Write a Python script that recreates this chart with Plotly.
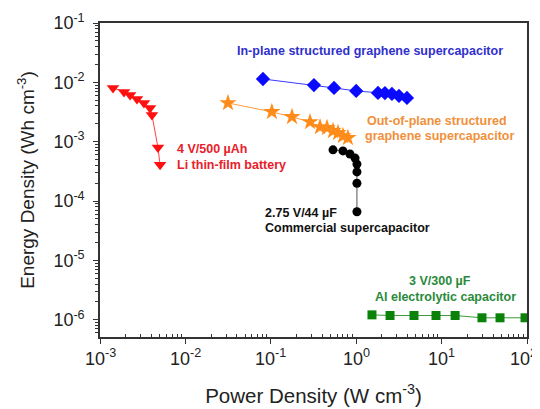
import plotly.graph_objects as go

# ---------------- data ----------------
li_power = [1.42e-3, 1.91e-3, 2.25e-3, 2.71e-3, 3.27e-3, 3.85e-3, 4.06e-3, 4.77e-3, 5.05e-3]
li_energy = [8.05e-3, 6.9e-3, 6.1e-3, 5.26e-3, 4.5e-3, 3.7e-3, 2.83e-3, 8.0e-4, 4.1e-4]

inplane_power = [0.081, 0.32, 0.55, 1.0, 1.8, 2.17, 2.62, 3.17, 3.93]
inplane_energy = [1.14e-2, 9.0e-3, 8.05e-3, 7.16e-3, 6.63e-3, 6.6e-3, 6.38e-3, 5.9e-3, 5.46e-3]

outplane_power = [0.0315, 0.103, 0.177, 0.288, 0.377, 0.455, 0.535, 0.612, 0.70, 0.80]
outplane_energy = [4.5e-3, 3.18e-3, 2.62e-3, 2.15e-3, 1.77e-3, 1.71e-3, 1.52e-3, 1.41e-3, 1.25e-3, 1.16e-3]

comm_power = [0.535, 0.70, 0.845, 0.97, 1.02, 1.02, 1.02, 1.02]
comm_energy = [7.3e-4, 7.0e-4, 6.2e-4, 5.3e-4, 4.2e-4, 3.1e-4, 2.0e-4, 6.6e-5]

al_power = [1.53, 2.49, 4.75, 8.6, 14.4, 29.7, 48.3, 94.8]
al_energy = [1.21e-6, 1.18e-6, 1.18e-6, 1.18e-6, 1.18e-6, 1.08e-6, 1.08e-6, 1.08e-6]

x_decades = [-3, -2, -1, 0, 1, 2]
y_decades = [-6, -5, -4, -3, -2, -1]

# ---------------- figure ----------------
fig = go.Figure()

def add_series(x, y, color, symbol, size, linecolor):
    fig.add_trace(go.Scatter(
        x=x, y=y, mode="lines+markers",
        line=dict(color=linecolor, width=1),
        marker=dict(symbol=symbol, size=size, color=color, line=dict(width=0)),
        showlegend=False))

add_series(li_power, li_energy, "#ff1010", "triangle-down", 11, "#ff4040")
add_series(inplane_power, inplane_energy, "#0a0aff", "diamond", 11, "#3a3aff")
add_series(outplane_power, outplane_energy, "#ff8c1a", "star", 13, "#ff9c40")
add_series(comm_power, comm_energy, "#000000", "circle", 9, "#555555")
add_series(al_power, al_energy, "#0a820a", "square", 9, "#3a9a3a")

def tick_text(d):
    return "10<sup>%d</sup>" % d

def minor_vals(decs):
    vals = []
    for d in decs[:-1]:
        for m in range(2, 10):
            vals.append(m * 10 ** d)
    return vals

# page offset of the figure (default body margin of the html page)
OFF = 8
# plot area in page pixels: x 100..527, y 23..337
L, R, T, B = 100, 527, 23, 337
PAGE_W, PAGE_H = 540, 409
W, H = PAGE_W - OFF, PAGE_H - OFF

def pxx(x):
    return (x - L) / (R - L)

def pxy(y):
    return (B - y) / (B - T)

font_family = "Liberation Sans, Arial"
tick_font = dict(family=font_family, size=18, color="#222222")

axis_common = dict(
    type="log", showline=True, linecolor="#333333", linewidth=1.5, mirror=True,
    ticks="outside", ticklen=5, tickwidth=1.2, tickcolor="#333333",
    showgrid=False, zeroline=False, automargin=False,
    tickfont=tick_font,
)

fig.update_xaxes(
    **axis_common,
    range=[-3, 2],
    tickmode="array",
    tickvals=[10 ** d for d in x_decades],
    ticktext=["" for d in x_decades],   # labels drawn as annotations below
    minor=dict(tickmode="array", tickvals=minor_vals(x_decades), ticks="inside",
               ticklen=3, tickcolor="#333333", tickwidth=1, showgrid=False),
    title=dict(text="Power Density (W cm<sup>-3</sup>)",
               font=dict(family=font_family, size=20.5, color="#222222"),
               standoff=42),
)
fig.update_yaxes(
    **axis_common,
    range=[-6.29, -1],
    tickmode="array",
    tickvals=[10 ** d for d in y_decades],
    ticktext=[tick_text(d) + "&nbsp;" for d in y_decades],
    minor=dict(tickmode="array", tickvals=minor_vals([-7] + y_decades), ticks="outside",
               ticklen=3, tickcolor="#333333", tickwidth=1, showgrid=False),
    title=dict(text="Energy Density (Wh cm<sup>-3</sup>)",
               font=dict(family=font_family, size=19, color="#222222"),
               standoff=14),
)

# x tick labels (the last one kept inside the page edge)
for d in x_decades:
    last = d == x_decades[-1]
    fig.add_annotation(text=tick_text(d),
                       x=pxx(538) if last else d,
                       xref="paper" if last else "x",
                       y=pxy(357), yref="paper",
                       xanchor="right" if last else "center", yanchor="middle",
                       showarrow=False, borderpad=0, font=tick_font)

ann = [
    ("<b>In-plane structured graphene supercapacitor</b>", 370, 51, "center", "#3030cc"),
    ("<b>Out-of-plane structured</b>", 437, 121, "center", "#f0903a"),
    ("<b>graphene supercapacitor</b>", 439, 136, "center", "#f0903a"),
    ("<b>4 V/500 µAh</b>", 175, 149, "left", "#e8202a"),
    ("<b>Li thin-film battery</b>", 175, 165, "left", "#e8202a"),
    ("<b>2.75 V/44 µF</b>", 263, 213, "left", "#111111"),
    ("<b>Commercial supercapacitor</b>", 263, 228, "left", "#111111"),
    ("<b>3 V/300 µF</b>", 440, 281, "center", "#2a8a3a"),
    ("<b>Al electrolytic capacitor</b>", 445, 297, "center", "#2a8a3a"),
]
for text, x, y, anchor, color in ann:
    fig.add_annotation(text=text, x=pxx(x), y=pxy(y), xref="paper", yref="paper",
                       xanchor=anchor, yanchor="middle", showarrow=False,
                       font=dict(family=font_family, size=12.5, color=color))

fig.update_layout(
    width=W, height=H,
    margin=dict(l=L - OFF, r=PAGE_W - R, t=T - OFF, b=PAGE_H - B, autoexpand=False),
    paper_bgcolor="white", plot_bgcolor="white",
)

fig.write_html("out.html")
